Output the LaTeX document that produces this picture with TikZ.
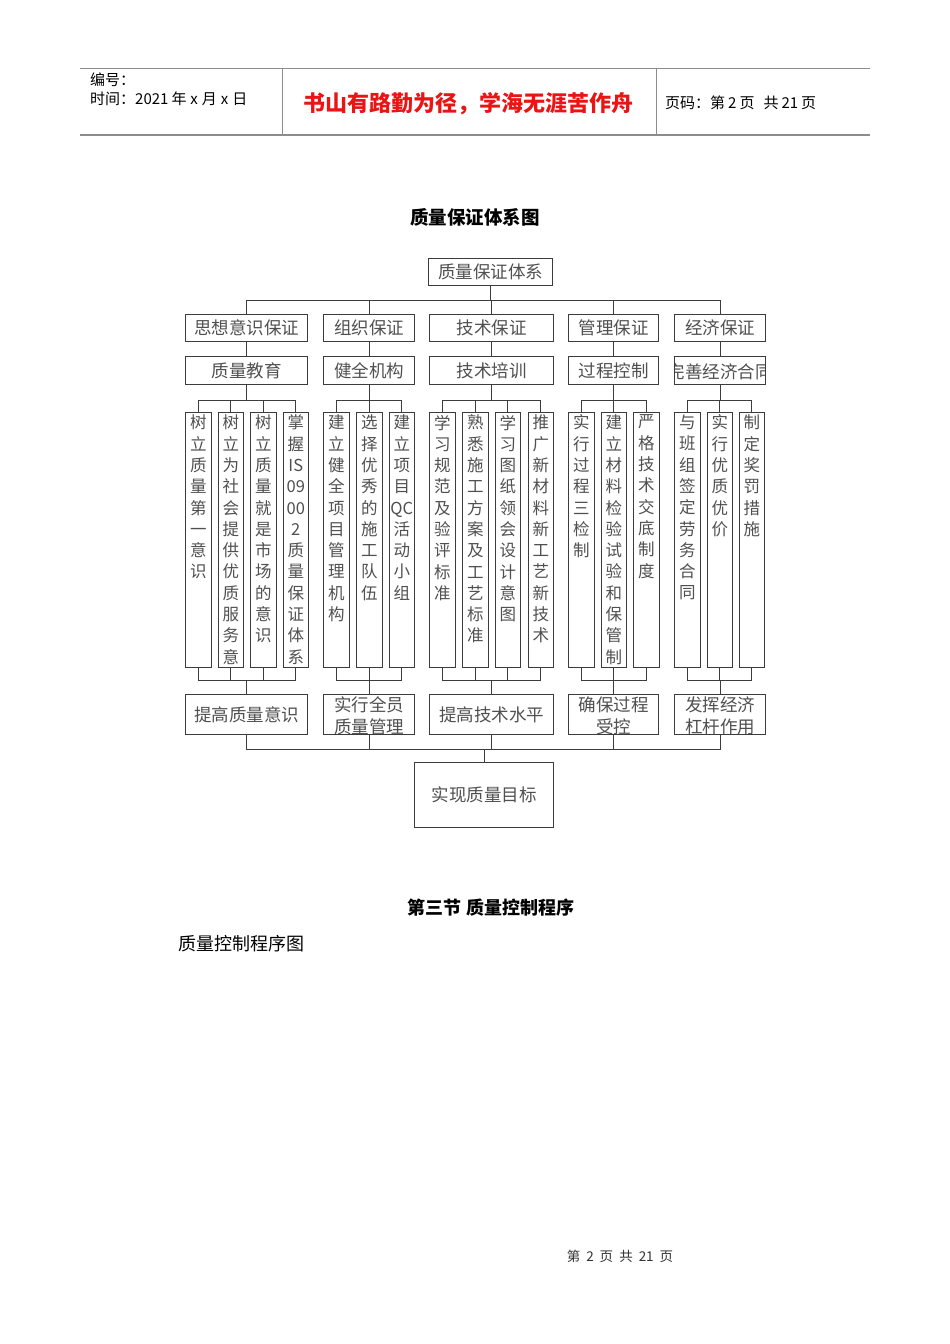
\documentclass[tikz,border=0pt]{standalone}
\usepackage{fontspec}
\setmainfont{Noto Sans CJK SC}
\definecolor{linecol}{RGB}{60,60,60}
\definecolor{txtcol}{RGB}{80,80,80}
\definecolor{mottored}{RGB}{235,20,20}
\definecolor{rulecol}{RGB}{140,140,140}
\newcommand{\chartfont}{\fontsize{17.5}{22}\selectfont}
\newcommand{\cellfont}{\fontsize{16.5}{21.3}\selectfont}
\newcommand{\headfont}{\fontsize{15}{18}\selectfont}
\tikzset{
  conn/.style={draw=linecol, line width=1pt},
  rule/.style={draw=rulecol, line width=1pt},
  plaintxt/.style={draw=none, anchor=center, minimum width=0pt, minimum height=0pt,
    inner sep=0pt, align=center, text=txtcol},
  catbox/.style={draw=linecol, line width=1pt, anchor=north west, inner sep=0pt,
    font=\chartfont, text=txtcol},
  clipbox/.style={catbox, path picture={\node[plaintxt, font=\chartfont]
    at ([yshift=-1.5pt]path picture bounding box.center) {#1};}},
  vcell/.style={draw=linecol, line width=1pt, anchor=north west, inner sep=0pt,
    minimum width=25.5pt, minimum height=255pt,
    path picture={\node[plaintxt, font=\cellfont, anchor=north]
      at ([yshift=-2pt]path picture bounding box.north) {#1};}},
}

\begin{document}
\begin{tikzpicture}[x=1pt,y=1pt]
  \fill[white] (0,0) rectangle (950,-1344);
  \useasboundingbox (0,0) rectangle (950,-1344);
  % page header
  \draw[rule, line width=0.8pt] (80,-68) -- (870,-68);
  \draw[rule, line width=2pt] (80,-135) -- (870,-135);
  \draw[rule, line width=0.8pt] (282,-68) -- (282,-135);
  \draw[rule, line width=0.8pt] (656,-68) -- (656,-135);
  \node[anchor=west, font=\headfont, inner sep=0pt] (hno) at (90,-80) {编号：};
  \node[anchor=west, font=\headfont, inner sep=0pt] (hdate) at (90,-99)
    {时间：2021\hspace{3pt}年\hspace{4pt}x\hspace{4pt}月\hspace{4pt}x\hspace{4pt}日};
  \node[font=\fontsize{22}{24}\selectfont\bfseries, text=mottored, inner sep=0pt] (motto)
    at (468,-104) {书山有路勤为径，学海无涯苦作舟};
  \node[anchor=west, font=\headfont, inner sep=0pt] (hpage) at (665,-103)
    {页码：第\hspace{3pt}2\hspace{3pt}页\hspace{9pt}共\hspace{3pt}21\hspace{3pt}页};
  % title
  \node[font=\fontsize{18.5}{20}\selectfont\bfseries] (title) at (475,-217) {质量保证体系图};
  % levels 1-3
  \node[catbox, minimum width=124pt, minimum height=27pt] (sys) at (428,-258) {质量保证体系};
  \foreach \n/\x/\w/\t in {g1/185/122/思想意识保证, g2/323/91/组织保证, g3/429/124/技术保证,
      g4/568/90/管理保证, g5/674/91/经济保证}
    \node[catbox, minimum width=\w pt, minimum height=27pt] (\n) at (\x,-314) {\t};
  \foreach \n/\x/\w/\t in {k1/185/122/质量教育, k2/323/91/健全机构, k3/429/124/技术培训,
      k4/568/90/过程控制}
    \node[catbox, minimum width=\w pt, minimum height=28pt] (\n) at (\x,-356) {\t};
  \node[clipbox={完善经济合同}, minimum width=91pt, minimum height=28pt] (k5) at (674,-356) {};
  % vertical cells
  \foreach \n/\x/\t in {
      c11/185/{树\\立\\质\\量\\第\\一\\意\\识},
      c12/217.5/{树\\立\\为\\社\\会\\提\\供\\优\\质\\服\\务\\意\\识},
      c13/250/{树\\立\\质\\量\\就\\是\\市\\场\\的\\意\\识},
      c14/282.5/{掌\\握\\IS\\09\\00\\2\\质\\量\\保\\证\\体\\系},
      c21/323/{建\\立\\健\\全\\项\\目\\管\\理\\机\\构},
      c22/356/{选\\择\\优\\秀\\的\\施\\工\\队\\伍},
      c23/388.5/{建\\立\\项\\目\\QC\\活\\动\\小\\组},
      c31/429/{学\\习\\规\\范\\及\\验\\评\\标\\准},
      c32/462/{熟\\悉\\施\\工\\方\\案\\及\\工\\艺\\标\\准},
      c33/494.5/{学\\习\\图\\纸\\领\\会\\设\\计\\意\\图},
      c34/527.5/{推\\广\\新\\材\\料\\新\\工\\艺\\新\\技\\术},
      c41/568/{实\\行\\过\\程\\三\\检\\制},
      c42/600.5/{建\\立\\材\\料\\检\\验\\试\\验\\和\\保\\管\\制},
      c43/633/{严\\格\\技\\术\\交\\底\\制\\度},
      c51/674/{与\\班\\组\\签\\定\\劳\\务\\合\\同},
      c52/706.5/{实\\行\\优\\质\\优\\价},
      c53/738.5/{制\\定\\奖\\罚\\措\\施}}
    \node[vcell={\t}] (\n) at (\x,-412) {};
  % level 5 and goal
  \node[catbox, minimum width=122pt, minimum height=40pt] (r1) at (185,-694) {提高质量意识};
  \node[clipbox={实行全员\\质量管理}, minimum width=91pt, minimum height=40pt] (r2) at (323,-694) {};
  \node[catbox, minimum width=124pt, minimum height=40pt] (r3) at (429,-694) {提高技术水平};
  \node[clipbox={确保过程\\受控}, minimum width=90pt, minimum height=40pt] (r4) at (568,-694) {};
  \node[clipbox={发挥经济\\杠杆作用}, minimum width=91pt, minimum height=40pt] (r5) at (674,-694) {};
  \node[catbox, minimum width=139pt, minimum height=65pt] (goal) at (414,-762) {实现质量目标};
  % connectors
  \foreach \k in {1,...,5} {
    \draw[conn] (sys.south) -- ++(0,-14) -| (g\k.north);
    \draw[conn] (g\k.south) -- (k\k.north);
    \draw[conn] (r\k.south) -- ++(0,-14) -| (goal.north);
  }
  \foreach \k/\cs in {1/{11,12,13,14}, 2/{21,22,23}, 3/{31,32,33,34}, 4/{41,42,43}, 5/{51,52,53}}
    \foreach \c in \cs {
      \draw[conn] (k\k.south) -- ++(0,-15) -| (c\c.north);
      \draw[conn] (c\c.south) -- ++(0,-12) -| (r\k.north);
    }
  % section text
  \node[font=\fontsize{18}{20}\selectfont\bfseries] (sect) at (491,-908) {第三节\ 质量控制程序};
  \node[anchor=west, font=\fontsize{18}{20}\selectfont, inner sep=0pt] (flow) at (178,-944) {质量控制程序图};
  % footer
  \node[font=\fontsize{13.5}{15}\selectfont, text=black!80] (foot) at (620,-1256)
    {第\hspace{6pt}2\hspace{6pt}页\hspace{6pt}共\hspace{6pt}21\hspace{6pt}页};
\end{tikzpicture}
\end{document}
